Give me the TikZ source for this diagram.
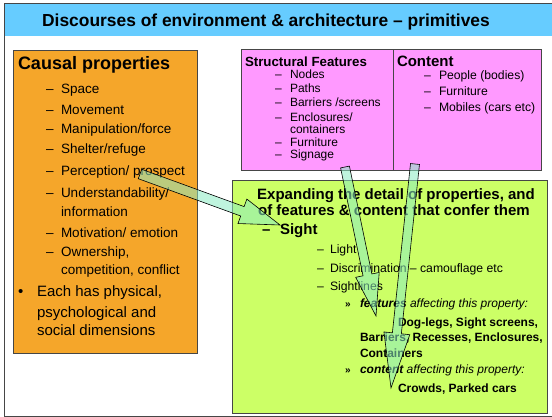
\documentclass[tikz,border=0pt]{standalone}
\usepackage{fontspec}
\setmainfont{Liberation Sans}
\usetikzlibrary{calc}
\definecolor{titleblue}{RGB}{102,204,255}
\definecolor{boxorange}{RGB}{245,166,42}
\definecolor{boxpink}{RGB}{255,153,255}
\definecolor{boxgreen}{RGB}{204,255,102}
\definecolor{arrowfill}{RGB}{140,235,195}
\definecolor{framegray}{RGB}{70,70,70}
\newcommand{\fs}[1]{\fontsize{#1}{#1}\selectfont}
\tikzset{
  txt/.style={anchor=base west, inner sep=0pt, outer sep=0pt},
  ctxt/.style={anchor=base, inner sep=0pt, outer sep=0pt},
  panel/.style={draw=framegray, line width=0.8pt},
  barrow/.style={draw=black, line width=0.6pt, fill=arrowfill, fill opacity=0.55, line join=miter},
}
\newcommand{\blockarrow}[5]{%
  \draw[barrow] let \p1=($(#2)-(#1)$), \n1={atan2(\y1,\x1)} in
    ($(#1)+({\n1+90}:#3)$) -- ($(#2)+({\n1+180}:#5)+({\n1+90}:#3)$) --
    ($(#2)+({\n1+180}:#5)+({\n1+90}:#4)$) -- (#2) --
    ($(#2)+({\n1+180}:#5)+({\n1-90}:#4)$) -- ($(#2)+({\n1+180}:#5)+({\n1-90}:#3)$) --
    ($(#1)+({\n1-90}:#3)$) -- cycle;}
\begin{document}
\begin{tikzpicture}[x=1pt,y=-1pt]
\useasboundingbox (0,0) rectangle (552,417);
\fill[white] (0,0) rectangle (552,417);
% outer frame and title bar
\fill[titleblue] (4,3) rectangle (556,36);
\draw[framegray, line width=0.8pt] (4,3) rectangle (556,416);
\node[ctxt, font=\fs{17.4}\bfseries] (title) at (266,27) {Discourses of environment \& architecture – primitives};

% orange panel
\draw[panel, fill=boxorange] (13,50) rectangle (197,353);
\node[txt, font=\fs{18}\bfseries] (causal) at (18,70) {Causal properties};
\foreach \t/\y [count=\i] in {Space/94, Movement/115, Manipulation\slash force/134, Shelter\slash refuge/154, Perception\slash{} prospect/176, Understandability\slash/197, Motivation\slash{} emotion/237, {Ownership,}/256}{
  \node[txt, font=\fs{13.5}] (od\i) at (46,\y) {–};
  \node[txt, font=\fs{13.5}] (oi\i) at (61,\y) {\t};
}
\node[txt, font=\fs{13.5}] (oinfo) at (61,216) {information};
\node[txt, font=\fs{13.5}] (ocomp) at (61,274) {competition, conflict};
\node[txt, font=\fs{15}] (bul) at (18,296) {•};
\node[txt, font=\fs{15}] (each1) at (37,296) {Each has physical,};
\node[txt, font=\fs{15}] (each2) at (37,317) {psychological and};
\node[txt, font=\fs{15}] (each3) at (37,335) {social dimensions};

% pink panels
\draw[panel, fill=boxpink] (241,49) rectangle (393,170);
\draw[panel, fill=boxpink] (393,49) rectangle (541,170);
\node[txt, font=\fs{13.3}\bfseries] (sf) at (245,67) {Structural Features};
\foreach \t/\y [count=\i] in {Nodes/79, Paths/93, Barriers {\slash}screens/107, Enclosures\slash/122, Furniture/147, Signage/159}{
  \node[txt, font=\fs{12}] (sd\i) at (275,\y) {–};
  \node[txt, font=\fs{12}] (si\i) at (290,\y) {\t};
}
\node[txt, font=\fs{12}] (scont) at (290,133.5) {containers};
\node[txt, font=\fs{15}\bfseries] (content) at (397,67) {Content};
\foreach \t/\y [count=\i] in {People (bodies)/80, Furniture/96, Mobiles (cars etc)/112}{
  \node[txt, font=\fs{12.2}] (cd\i) at (424,\y) {–};
  \node[txt, font=\fs{12.2}] (ci\i) at (439,\y) {\t};
}

% green panel
\draw[panel, fill=boxgreen] (232,180) rectangle (547,413);
\node[ctxt, font=\fs{15}\bfseries] (exp1) at (396,200) {Expanding the detail of properties, and};
\node[ctxt, font=\fs{15}\bfseries] (exp2) at (394,215) {of features \& content that confer them};
\node[txt, font=\fs{15}\bfseries] (sdash) at (262,234) {–};
\node[txt, font=\fs{15}\bfseries] (sight) at (280,234) {Sight};
\foreach \t/\y [count=\i] in {Light/253, Discrimination – camouflage etc/272, Sightlines/290}{
  \node[txt, font=\fs{12.2}] (gd\i) at (317,\y) {–};
  \node[txt, font=\fs{12.2}] (gi\i) at (330,\y) {\t};
}
\node[txt, font=\fs{10}\bfseries] (r1) at (345,307) {»};
\node[txt, font=\fs{12}\itshape] (feat) at (360,307) {\textbf{features} affecting this property:};
\node[txt, font=\fs{12}\bfseries] (dog) at (398,326) {Dog-legs, Sight screens,};
\node[txt, font=\fs{12}\bfseries] (barr) at (360,341) {Barriers, Recesses, Enclosures,};
\node[txt, font=\fs{12}\bfseries] (cont) at (360,357) {Containers};
\node[txt, font=\fs{10}\bfseries] (r2) at (345,373) {»};
\node[txt, font=\fs{12}\itshape] (cnt) at (360,373) {\textbf{content} affecting this property:};
\node[txt, font=\fs{12}\bfseries] (crowd) at (398,392) {Crowds, Parked cars};

% block arrows
\coordinate (a1s) at (140,174);
\coordinate (a1e) at (280,225);
\coordinate (a2s) at (345,167);
\coordinate (a2e) at (376,316);
\coordinate (a3s) at (415,164);
\coordinate (a3e) at (391,388);
\blockarrow{a1s}{a1e}{5pt}{13pt}{40pt}
\blockarrow{a2s}{a2e}{4.5pt}{12pt}{42pt}
\blockarrow{a3s}{a3e}{4.5pt}{13pt}{55pt}
\end{tikzpicture}
\end{document}
